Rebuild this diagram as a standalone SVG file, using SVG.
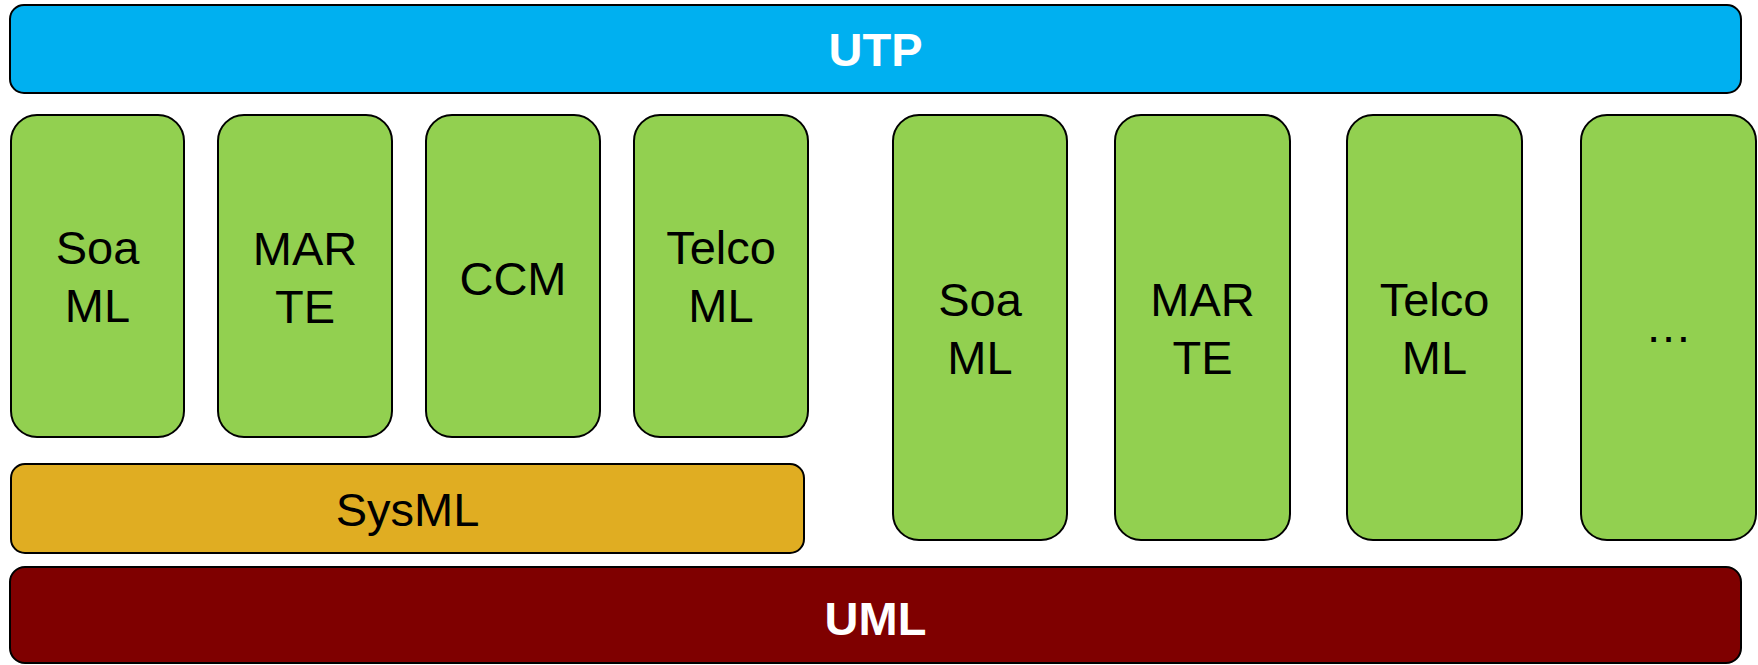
<svg xmlns="http://www.w3.org/2000/svg" width="1758" height="665" viewBox="0 0 1758 665">
  <style>
    .box { stroke: #000; stroke-width: 2; }
    .utp { fill: #00B0F0; }
    .prof { fill: #92D050; }
    .sys { fill: #E0AD22; }
    .uml { fill: #7F0000; }
    .lbl { font-family: "Liberation Sans", Arial, sans-serif; font-size: 47px; fill: #000; text-anchor: middle; }
    .hdr { font-family: "Liberation Sans", Arial, sans-serif; font-size: 47px; font-weight: bold; fill: #fff; text-anchor: middle; }
  </style>

  <!-- top layer -->
  <g id="utp">
    <rect class="box utp" x="10" y="5" width="1731" height="88" rx="14"/>
    <text class="hdr" x="875.5" y="66">UTP</text>
  </g>

  <!-- profiles built on SysML -->
  <g id="soaml-1">
    <rect class="box prof" x="11" y="115" width="173" height="322" rx="26"/>
    <text class="lbl" x="97.5" y="264">Soa</text>
    <text class="lbl" x="97.5" y="322">ML</text>
  </g>
  <g id="marte-1">
    <rect class="box prof" x="218" y="115" width="174" height="322" rx="26"/>
    <text class="lbl" x="305" y="265">MAR</text>
    <text class="lbl" x="305" y="323">TE</text>
  </g>
  <g id="ccm">
    <rect class="box prof" x="426" y="115" width="174" height="322" rx="26"/>
    <text class="lbl" x="513" y="295">CCM</text>
  </g>
  <g id="telcoml-1">
    <rect class="box prof" x="634" y="115" width="174" height="322" rx="26"/>
    <text class="lbl" x="721" y="264">Telco</text>
    <text class="lbl" x="721" y="322">ML</text>
  </g>

  <g id="sysml">
    <rect class="box sys" x="11" y="464" width="793" height="89" rx="14"/>
    <text class="lbl" x="407.5" y="526">SysML</text>
  </g>

  <!-- profiles built directly on UML -->
  <g id="soaml-2">
    <rect class="box prof" x="893" y="115" width="174" height="425" rx="26"/>
    <text class="lbl" x="980" y="316">Soa</text>
    <text class="lbl" x="980" y="374">ML</text>
  </g>
  <g id="marte-2">
    <rect class="box prof" x="1115" y="115" width="175" height="425" rx="26"/>
    <text class="lbl" x="1202.5" y="316">MAR</text>
    <text class="lbl" x="1202.5" y="374">TE</text>
  </g>
  <g id="telcoml-2">
    <rect class="box prof" x="1347" y="115" width="175" height="425" rx="26"/>
    <text class="lbl" x="1434.5" y="316">Telco</text>
    <text class="lbl" x="1434.5" y="374">ML</text>
  </g>
  <g id="more">
    <rect class="box prof" x="1581" y="115" width="175" height="425" rx="26"/>
    <text class="lbl" x="1668.5" y="342">…</text>
  </g>

  <!-- base layer -->
  <g id="uml">
    <rect class="box uml" x="10" y="567" width="1731" height="96" rx="15"/>
    <text class="hdr" x="875.5" y="635">UML</text>
  </g>

  <g id="connectors"/>
</svg>
